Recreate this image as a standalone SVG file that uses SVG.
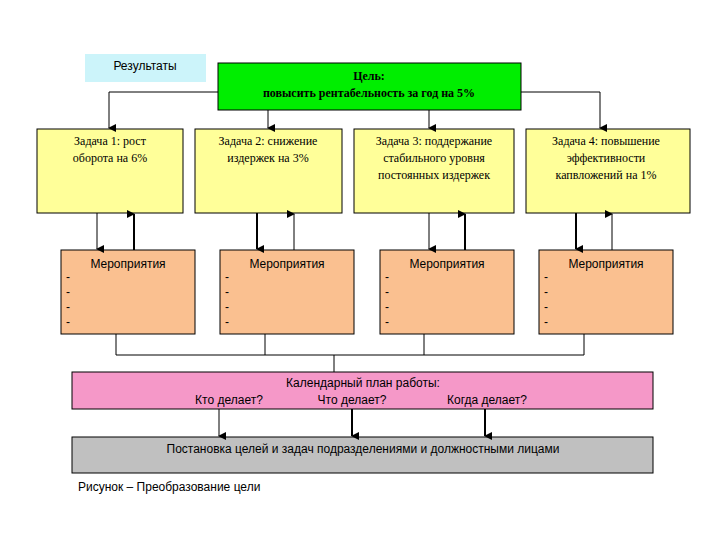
<svg xmlns="http://www.w3.org/2000/svg" width="720" height="540" viewBox="0 0 720 540">
<defs>
<marker id="a" markerWidth="8" markerHeight="8" refX="4" refY="7" orient="auto" markerUnits="userSpaceOnUse" viewBox="0 0 8 8"><path d="M0,0 L4,8 L8,0 Z" fill="#000"/></marker>
<style>
.s{font-family:"Liberation Sans",Arial,sans-serif;font-size:12px;fill:#000}
.r{font-family:"Liberation Serif","Times New Roman",serif;font-size:12px;fill:#000}
.l{stroke:#000;fill:none}
.t{stroke:#000;stroke-width:1}
.k{stroke:#000;stroke-width:2}
</style>
</defs>
<rect width="720" height="540" fill="#fff"/>
<g id="results"><rect x="85" y="54" width="121" height="28" fill="#ccf4fa"/><text class="s" x="145" y="70" text-anchor="middle">Результаты</text></g>
<g id="goal"><rect x="218" y="63" width="303" height="47" fill="#00ee00" stroke="#000"/><text class="r" x="369" y="80" text-anchor="middle" font-weight="bold">Цель:</text><text class="r" x="369" y="97" text-anchor="middle" font-weight="bold">повысить рентабельность за год на 5%</text></g>
<g id="task1"><rect x="37" y="129" width="146" height="84" fill="#ffff99" stroke="#000"/><text class="r" x="110" y="145" text-anchor="middle">Задача 1: рост</text><text class="r" x="110" y="162" text-anchor="middle">оборота на 6%</text></g>
<g id="task2"><rect x="195" y="129" width="147" height="84" fill="#ffff99" stroke="#000"/><text class="r" x="268" y="145" text-anchor="middle">Задача 2: снижение</text><text class="r" x="268" y="162" text-anchor="middle">издержек на 3%</text></g>
<g id="task3"><rect x="354" y="129" width="160" height="84" fill="#ffff99" stroke="#000"/><text class="r" x="434" y="145" text-anchor="middle">Задача 3: поддержание</text><text class="r" x="434" y="162" text-anchor="middle">стабильного уровня</text><text class="r" x="434" y="179" text-anchor="middle">постоянных издержек</text></g>
<g id="task4"><rect x="526" y="129" width="164" height="84" fill="#ffff99" stroke="#000"/><text class="r" x="606" y="145" text-anchor="middle">Задача 4: повышение</text><text class="r" x="606" y="162" text-anchor="middle">эффективности</text><text class="r" x="606" y="179" text-anchor="middle">капвложений на 1%</text></g>
<g id="m1"><rect x="61" y="250" width="134" height="84" fill="#fac090" stroke="#000"/><text class="s" x="128" y="268" text-anchor="middle">Мероприятия</text><text class="s" x="66" y="281">-</text><text class="s" x="66" y="296">-</text><text class="s" x="66" y="311">-</text><text class="s" x="66" y="326">-</text></g>
<g id="m2"><rect x="220" y="250" width="134" height="84" fill="#fac090" stroke="#000"/><text class="s" x="287" y="268" text-anchor="middle">Мероприятия</text><text class="s" x="225" y="281">-</text><text class="s" x="225" y="296">-</text><text class="s" x="225" y="311">-</text><text class="s" x="225" y="326">-</text></g>
<g id="m3"><rect x="380" y="250" width="134" height="84" fill="#fac090" stroke="#000"/><text class="s" x="447" y="268" text-anchor="middle">Мероприятия</text><text class="s" x="385" y="281">-</text><text class="s" x="385" y="296">-</text><text class="s" x="385" y="311">-</text><text class="s" x="385" y="326">-</text></g>
<g id="m4"><rect x="539" y="250" width="134" height="84" fill="#fac090" stroke="#000"/><text class="s" x="606" y="268" text-anchor="middle">Мероприятия</text><text class="s" x="544" y="281">-</text><text class="s" x="544" y="296">-</text><text class="s" x="544" y="311">-</text><text class="s" x="544" y="326">-</text></g>
<g id="plan"><rect x="72" y="372" width="581" height="37" fill="#f598c8" stroke="#000"/><text class="s" x="363" y="387" text-anchor="middle">Календарный план работы:</text><text class="s" x="229" y="404" text-anchor="middle">Кто делает?</text><text class="s" x="352" y="404" text-anchor="middle">Что делает?</text><text class="s" x="487" y="404" text-anchor="middle">Когда делает?</text></g>
<g id="setting"><rect x="72" y="437" width="581" height="36" fill="#c0c0c0" stroke="#000"/><text class="s" x="363" y="453" text-anchor="middle">Постановка целей и задач подразделениями и должностными лицами</text></g>
<text id="caption" class="s" x="78" y="491">Рисунок – Преобразование цели</text>
<g id="connectors">
<path class="l t" d="M218,92 H109 V128" marker-end="url(#a)"/>
<path class="l t" d="M521,92 H600 V128" marker-end="url(#a)"/>
<path class="l t" d="M268,110 V128" marker-end="url(#a)"/>
<path class="l t" d="M429,110 V128" marker-end="url(#a)"/>
<path class="l t" d="M97,213 V249" marker-end="url(#a)"/>
<path class="l k" d="M134,250 V214" marker-end="url(#a)"/>
<path class="l k" d="M257,213 V249" marker-end="url(#a)"/>
<path class="l t" d="M294,250 V214" marker-end="url(#a)"/>
<path class="l t" d="M429,213 V249" marker-end="url(#a)"/>
<path class="l k" d="M465,250 V214" marker-end="url(#a)"/>
<path class="l k" d="M576,213 V249" marker-end="url(#a)"/>
<path class="l t" d="M612,250 V214" marker-end="url(#a)"/>
<path class="l t" d="M116,334 V355 H584 V334 M265,334 V355 M424,334 V355 M334,355 V372"/>
<path class="l t" d="M219,409 V436" marker-end="url(#a)"/>
<path class="l k" d="M352,409 V436" marker-end="url(#a)"/>
<path class="l k" d="M485,409 V436" marker-end="url(#a)"/>
</g>
</svg>
